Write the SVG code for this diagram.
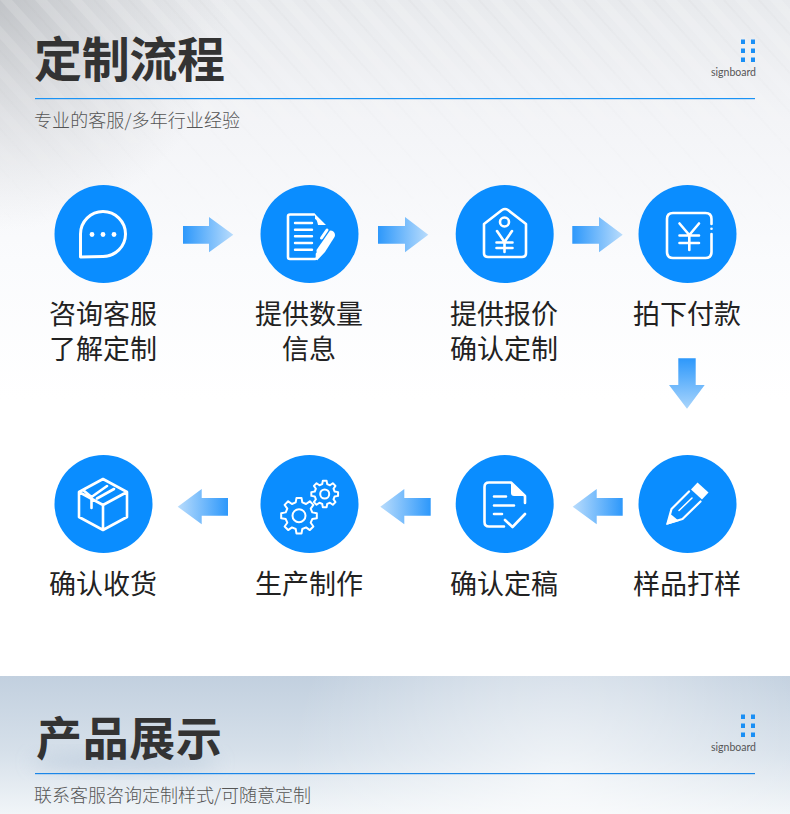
<svg xmlns="http://www.w3.org/2000/svg" width="790" height="814" viewBox="0 0 790 814">
<style>
.cjk{font-family:"Noto Sans CJK SC","Noto Sans",sans-serif}
.title{font-size:48px;font-weight:700;fill:#333}
.sub{font-size:18px;font-weight:300;fill:#555}
.lab{font-size:27px;fill:#222;text-anchor:middle}
.sign{font-family:Lato,"Open Sans",sans-serif;font-size:10.5px;fill:#555}
.disc{fill:#0a8dff}
.ic{fill:none;stroke:#fff;stroke-width:2.600;stroke-linecap:round;stroke-linejoin:round}
.fw{fill:#fff;stroke:none}
.dot{fill:#1a8ff5}
</style>
<defs>
<linearGradient id="bgTop" x1="0" y1="0" x2="0" y2="1"><stop offset="0" stop-color="#e8eaed"/><stop offset=".3" stop-color="#f3f4f7"/><stop offset=".65" stop-color="#fafbfd"/><stop offset="1" stop-color="#fff"/></linearGradient>
<radialGradient id="corner" gradientUnits="userSpaceOnUse" cx="0" cy="0" r="230"><stop offset="0" stop-color="#b4b7bb" stop-opacity=".75"/><stop offset="1" stop-color="#c8cacd" stop-opacity="0"/></radialGradient>
<linearGradient id="bgBot" x1="0" y1="0" x2="0" y2="1"><stop offset="0" stop-color="#c2d0df"/><stop offset=".55" stop-color="#d6e0ea"/><stop offset="1" stop-color="#f1f5f8"/></linearGradient>
<radialGradient id="botLight" gradientUnits="userSpaceOnUse" cx="560" cy="780" r="270"><stop offset="0" stop-color="#fff" stop-opacity=".6"/><stop offset="1" stop-color="#fff" stop-opacity="0"/></radialGradient>
<pattern id="stripes" width="26" height="26" patternUnits="userSpaceOnUse" patternTransform="rotate(-42)"><rect width="9" height="26" fill="#fff" opacity=".16"/><rect x="17" width="2" height="26" fill="#9a9da3" opacity=".045"/></pattern>
<linearGradient id="stripeFade" x1="0" y1="0" x2="0" y2="1"><stop offset="0" stop-color="#fff"/><stop offset="1" stop-color="#000"/></linearGradient>
<mask id="sm"><rect width="790" height="230" fill="url(#stripeFade)"/></mask>
<linearGradient id="aR" x1="0" y1="0" x2="1" y2="0"><stop offset="0" stop-color="#2d98fb"/><stop offset="1" stop-color="#b9dcfc"/></linearGradient>
<linearGradient id="aL" x1="1" y1="0" x2="0" y2="0"><stop offset="0" stop-color="#2d98fb"/><stop offset="1" stop-color="#b9dcfc"/></linearGradient>
<linearGradient id="aD" x1="0" y1="0" x2="0" y2="1"><stop offset="0" stop-color="#2d98fb"/><stop offset="1" stop-color="#a9d5fc"/></linearGradient>
<filter id="blur" x="-20%" y="-50%" width="140%" height="200%"><feGaussianBlur stdDeviation="9"/></filter>
<path id="gear" vector-effect="non-scaling-stroke" d="M-18.400 -73.700L-13.900 -99H13.900L18.400 -73.700L39.100 -65.100L60.200 -79.900L79.900 -60.200L65.100 -39.100L73.700 -18.400L99 -13.900V13.900L73.700 18.400L65.100 39.100L79.900 60.200L60.200 79.900L39.100 65.100L18.400 73.700L13.900 99H-13.900L-18.400 73.700L-39.100 65.100L-60.200 79.900L-79.900 60.200L-65.100 39.100L-73.700 18.400L-99 13.900V-13.900L-73.700 -18.400L-65.100 -39.100L-79.900 -60.200L-60.200 -79.900L-39.100 -65.100Z"/>
</defs>

<g id="background">
<rect width="790" height="814" fill="#fff"/>
<rect width="790" height="400" fill="url(#bgTop)"/>
<rect width="240" height="240" fill="url(#corner)"/>
<rect width="790" height="230" fill="url(#stripes)" mask="url(#sm)"/>
<rect y="676" width="790" height="138" fill="url(#bgBot)"/>
<rect y="676" width="790" height="138" fill="url(#botLight)"/>
<ellipse cx="125" cy="762" rx="95" ry="9" fill="#b9c9da" opacity=".7" filter="url(#blur)"/>
</g>

<g id="header-top">
<text class="cjk title" x="34" y="77" textLength="191">定制流程</text>
<rect x="35" y="98" width="720" height="1.200" fill="#1a93f5"/>
<text class="cjk sub" x="34" y="127" textLength="206">专业的客服/多年行业经验</text>
<g id="sign-top"><rect class="dot" x="741" y="39.500" width="4" height="4.500"/><rect class="dot" x="751" y="39.500" width="4" height="4.500"/><rect class="dot" x="741" y="48.500" width="4" height="4.500"/><rect class="dot" x="751" y="48.500" width="4" height="4.500"/><rect class="dot" x="741" y="57.500" width="4" height="4.500"/><rect class="dot" x="751" y="57.500" width="4" height="4.500"/><text class="sign" x="711" y="76" textLength="45">signboard</text></g>
</g>

<g id="connectors">
<path fill="url(#aR)" d="M183 226H209V217L233.300 234.700L209 252.300V243.700H183Z"/>
<path fill="url(#aR)" d="M378 226H405V217L428.300 234.700L405 252.300V243.700H378Z"/>
<path fill="url(#aR)" d="M572.300 226H599V217L622.700 234.700L599 252.300V243.700H572.300Z"/>
<path fill="url(#aD)" d="M678.300 358.300H695.700V385H704.700L687 408.700L669 385H678.300Z"/>
<path fill="url(#aL)" d="M622.700 498V515.700H596.700V524.300L572.700 506.700L596.700 489V498Z"/>
<path fill="url(#aL)" d="M430.700 498V515.700H404.300V524.300L380.300 506.700L404.300 489V498Z"/>
<path fill="url(#aL)" d="M228 498V515.700H201.700V524.300L177.700 506.700L201.700 489V498Z"/>
</g>

<g id="node-consult">
<circle class="disc" cx="103.500" cy="234" r="49"/>
<path class="ic" style="stroke-width:3" d="M80.500 257V234A22.500 22.500 0 1 1 103 256.500Z"/>
<circle class="fw" cx="92" cy="234.500" r="2.400"/><circle class="fw" cx="103" cy="234.500" r="2.400"/><circle class="fw" cx="114" cy="234.500" r="2.400"/>
<text class="cjk lab"><tspan x="103" y="324">咨询客服</tspan><tspan x="103" y="359">了解定制</tspan></text>
</g>

<g id="node-quantity">
<circle class="disc" cx="309.500" cy="234" r="49"/>
<path class="ic" d="M314 214.500H290Q288 214.500 288 216.500V257Q288 259 290 259H315Q317 259 317 257V254"/>
<path class="fw" d="M315 214L326 225H318Q317 219 315 219Z"/>
<path class="ic" style="stroke-width:2.400" d="M295 223H312M295 229.700H312M295 236.300H312M295 243H312M295 249.700H312"/>
<path class="ic" style="stroke-width:3" d="M321.500 238L327 230"/>
<path class="fw" d="M330 230.500C334 230.500 336 234 334.500 237L325 252L317 260.500L316.500 250Z"/>
<text class="cjk lab"><tspan x="309" y="324">提供数量</tspan><tspan x="309" y="359">信息</tspan></text>
</g>

<g id="node-quote">
<circle class="disc" cx="504.700" cy="234" r="49"/>
<path class="ic" d="M484 224L502 210Q505 208 508 210L526 224V253Q526 257 522 257H488Q484 257 484 253Z"/>
<circle class="ic" cx="504.500" cy="222" r="4.500"/>
<path class="ic" d="M497 231L504.500 242L512 231M496.500 242.500H512.500M496.500 248H512.500M504.500 242V252"/>
<text class="cjk lab"><tspan x="504" y="324">提供报价</tspan><tspan x="504" y="359">确认定制</tspan></text>
</g>

<g id="node-pay">
<circle class="disc" cx="687.500" cy="234" r="49"/>
<path class="ic" d="M711.500 224V219Q711.500 213 705.500 213H673Q667 213 667 219V252Q667 258 673 258H705.500Q711.500 258 711.500 252V234"/>
<circle class="fw" cx="711.500" cy="228.700" r="1.300"/>
<path class="ic" d="M679.500 223.500L689.300 235L699 223.500M679.500 235.500H699M679.500 243H699M689.300 235V250"/>
<text class="cjk lab" x="687" y="324">拍下付款</text>
</g>

<g id="node-sample">
<circle class="disc" cx="687.500" cy="504" r="49"/>
<path class="fw" d="M697.500 482.500L708.500 492.500L702 499.500L691 489.500Z"/>
<path class="ic" style="stroke-width:2.200" d="M689 491.500L671.500 509L667.500 523.500L682.500 519L700.500 501.500"/>
<path class="fw" d="M670.500 514L666 525L679 521Z"/>
<path class="ic" style="stroke-width:1.500" d="M679 510.500L692 498"/>
<text class="cjk lab" x="687" y="594">样品打样</text>
</g>

<g id="node-confirm-draft">
<circle class="disc" cx="504.700" cy="504" r="49"/>
<path class="ic" d="M504 526.500H489Q484.500 526.500 484.500 522V487Q484.500 482.500 489 482.500H511L525 496V503"/>
<path class="fw" d="M511 482L525 496H514Q511 496 511 493Z"/>
<path class="ic" d="M494 496.500H506M494 505.500H514M494 514H502M505 520L512.500 527L525 514"/>
<text class="cjk lab" x="504" y="594">确认定稿</text>
</g>

<g id="node-production">
<circle class="disc" cx="309.500" cy="504" r="49"/>
<g class="ic" style="stroke-width:2"><circle cx="299" cy="515.700" r="6.500"/><circle cx="324.700" cy="494" r="4.500"/>
<use href="#gear" transform="translate(299 515.700) scale(.18)"/>
<use href="#gear" transform="translate(324.700 494) scale(.135)"/></g>
<text class="cjk lab" x="309" y="594">生产制作</text>
</g>

<g id="node-receive">
<circle class="disc" cx="103.500" cy="504" r="49"/>
<path class="ic" d="M103 479L127 492V517L103 530L79 517V492ZM79 492L103 505L127 492M103 505V530M91.500 508V497L107 486M97 498.500L114 489M83 490L91.500 497"/>
<text class="cjk lab" x="103" y="594">确认收货</text>
</g>

<g id="header-bottom">
<text class="cjk title" style="font-size:46px" x="36" y="755" textLength="186">产品展示</text>
<rect x="35" y="773" width="720" height="1.200" fill="#1a86e8"/>
<text class="cjk sub" x="34" y="802" textLength="277">联系客服咨询定制样式/可随意定制</text>
<g id="sign-bottom"><rect class="dot" x="741" y="714.500" width="4" height="4.500"/><rect class="dot" x="751" y="714.500" width="4" height="4.500"/><rect class="dot" x="741" y="723.500" width="4" height="4.500"/><rect class="dot" x="751" y="723.500" width="4" height="4.500"/><rect class="dot" x="741" y="732.500" width="4" height="4.500"/><rect class="dot" x="751" y="732.500" width="4" height="4.500"/><text class="sign" x="711" y="751" textLength="45">signboard</text></g>
</g>
</svg>
